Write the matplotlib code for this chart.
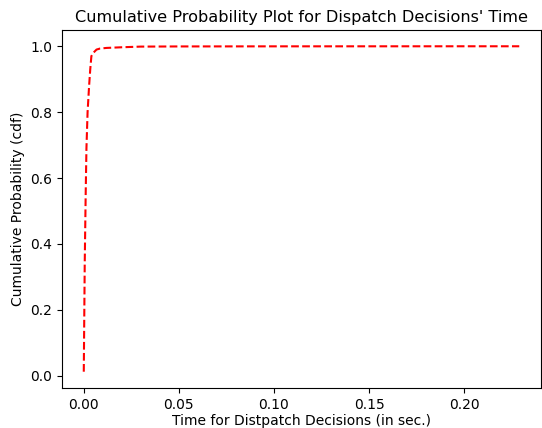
import matplotlib

matplotlib.use("Agg")
import matplotlib.pyplot as plt  # noqa: E402

# decision time (sec.) vs cumulative probability
times = [0.0, 0.0005, 0.0010, 0.0014, 0.0020, 0.0028, 0.0034, 0.0040, 0.0050,
         0.0067, 0.0085, 0.012, 0.02, 0.03, 0.05, 0.1, 0.15, 0.2, 0.229]
cdf = [0.012, 0.34, 0.55, 0.69, 0.80, 0.88, 0.93, 0.97, 0.98,
       0.99, 0.993, 0.995, 0.997, 0.999, 0.9995, 0.9998, 0.9999, 1.0, 1.0]

fig = plt.figure(figsize=(5.42, 4.28), dpi=100)
ax = fig.add_axes([0.1144, 0.0935, 0.8838, 0.8364])
ax.plot(times, cdf, "r--")
ax.set_title("Cumulative Probability Plot for Dispatch Decisions' Time",
             fontsize=11.6)
ax.set_xlabel("Time for Distpatch Decisions (in sec.)", labelpad=2)
ax.set_ylabel("Cumulative Probability (cdf)")
fig.savefig("out.png", dpi=100)
